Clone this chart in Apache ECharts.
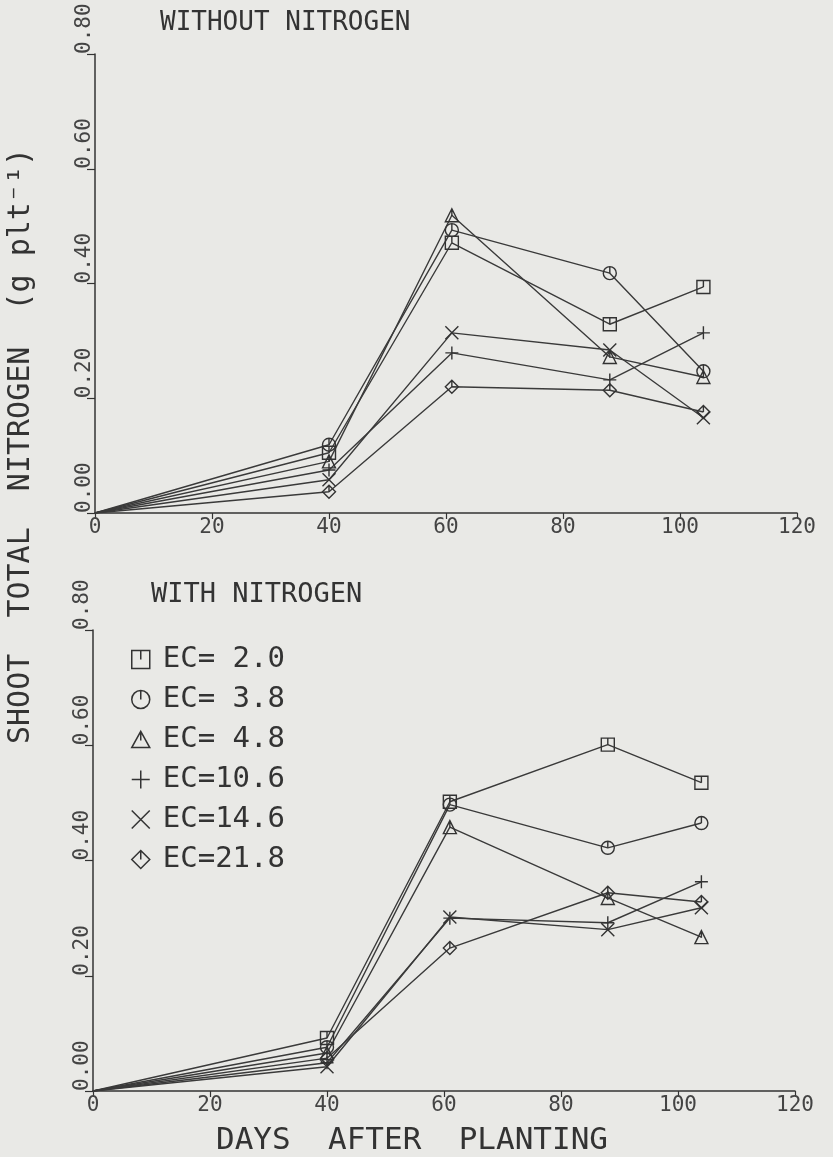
<!DOCTYPE html>
<html>
<head>
<meta charset="utf-8">
<script src="https://cdn.jsdelivr.net/npm/echarts@6/dist/echarts.min.js"></script>
<style>
  html, body { margin: 0; background: #e9e9e6; }
  #chart { width: 833px; height: 1157px; }
</style>
</head>
<body>
<div id="chart"></div>
<script>
// days after planting
const days = [0, 40, 61, 88, 104];
const ecNames = ['EC= 2.0', 'EC= 3.8', 'EC= 4.8', 'EC=10.6', 'EC=14.6', 'EC=21.8'];

// without nitrogen (top panel)
const noN_ec2_0 = [0, 0.105, 0.471, 0.329, 0.394];
const noN_ec3_8 = [0, 0.119, 0.493, 0.418, 0.247];
const noN_ec4_8 = [0, 0.090, 0.519, 0.272, 0.237];
const noN_ec10_6 = [0, 0.075, 0.279, 0.232, 0.314];
const noN_ec14_6 = [0, 0.058, 0.314, 0.284, 0.166];
const noN_ec21_8 = [0, 0.037, 0.220, 0.214, 0.176];

// with nitrogen (bottom panel)
const withN_ec2_0 = [0, 0.092, 0.502, 0.601, 0.535];
const withN_ec3_8 = [0, 0.076, 0.497, 0.422, 0.465];
const withN_ec4_8 = [0, 0.066, 0.458, 0.335, 0.267];
const withN_ec10_6 = [0, 0.049, 0.300, 0.292, 0.363];
const withN_ec14_6 = [0, 0.042, 0.302, 0.280, 0.318];
const withN_ec21_8 = [0, 0.057, 0.248, 0.344, 0.328];

const xTicks = [0, 120, 20];     // min, max, interval
const yTicks = [0, 0.8, 0.2];

const mono = 'DejaVu Sans Mono';
const ink = '#333';

// plotter style markers, each with its little tick mark
const markers = [
  'path://M0,0 L10,0 L10,10 L0,10 Z M5,0 L5,5',
  'path://M0,5 A5,5 0 1 1 10,5 A5,5 0 1 1 0,5 Z M5,0 L5,5',
  'path://M5,0 L10,9 L0,9 Z M5,0 L5,5',
  'path://M5,0 L5,10 M0,5 L10,5',
  'path://M0,0 L10,10 M10,0 L0,10',
  'path://M5,0 L10,5 L5,10 L0,5 Z M5,0 L5,5'
];

const chart = echarts.init(document.getElementById('chart'));

function makeSeries(values, i, axis) {
  return {
    name: ecNames[i],
    type: 'line',
    xAxisIndex: axis,
    yAxisIndex: axis,
    data: days.map((d, k) => (k === 0 ? { value: [d, values[k]], symbol: 'none' } : [d, values[k]])),
    symbol: markers[i],
    symbolSize: 13,
    lineStyle: { color: '#3a3a3a', width: 1.4 },
    itemStyle: { color: 'rgba(0,0,0,0)', borderColor: ink, borderWidth: 1.4 },
    emphasis: { disabled: true },
    silent: true
  };
}

const topSets = [noN_ec2_0, noN_ec3_8, noN_ec4_8, noN_ec10_6, noN_ec14_6, noN_ec21_8];
const bottomSets = [withN_ec2_0, withN_ec3_8, withN_ec4_8, withN_ec10_6, withN_ec14_6, withN_ec21_8];

const series = [];
topSets.forEach((v, i) => series.push(makeSeries(v, i, 0)));
bottomSets.forEach((v, i) => series.push(makeSeries(v, i, 1)));

function xAxis(idx) {
  return {
    type: 'value', gridIndex: idx,
    min: xTicks[0], max: xTicks[1], interval: xTicks[2],
    axisLine: { show: true, onZero: false, lineStyle: { color: ink, width: 1.5 } },
    axisTick: { show: true, length: 6, lineStyle: { color: ink, width: 1.2 } },
    axisLabel: { fontFamily: mono, fontSize: 21, color: '#444', margin: 4, showMinLabel: true, showMaxLabel: true },
    splitLine: { show: false }
  };
}

function yAxis(idx) {
  return {
    type: 'value', gridIndex: idx,
    min: yTicks[0], max: yTicks[1], interval: yTicks[2],
    axisLine: { show: true, onZero: false, lineStyle: { color: ink, width: 1.5 } },
    axisTick: { show: true, length: 8, lineStyle: { color: ink, width: 1.2 } },
    axisLabel: {
      fontFamily: mono, fontSize: 21, color: '#444',
      rotate: 90, align: 'left', verticalAlign: 'bottom', margin: 0,
      showMinLabel: true, showMaxLabel: true,
      formatter: (v) => v.toFixed(2)
    },
    splitLine: { show: false }
  };
}

const option = {
  backgroundColor: '#e9e9e6',
  animation: false,
  grid: [
    { left: 95, top: 54, width: 702, height: 459 },
    { left: 93, top: 630, width: 702, height: 461 }
  ],
  xAxis: [xAxis(0), xAxis(1)],
  yAxis: [yAxis(0), yAxis(1)],
  legend: {
    data: ecNames.map((n, i) => ({ name: n, icon: markers[i] })),
    orient: 'vertical',
    left: 126,
    top: 640,
    itemWidth: 18,
    itemHeight: 18,
    itemGap: 11,
    selectedMode: false,
    itemStyle: { color: 'rgba(0,0,0,0)', borderColor: ink, borderWidth: 1.5 },
    lineStyle: { opacity: 0 },
    textStyle: { fontFamily: mono, fontSize: 29, lineHeight: 29, color: ink, padding: [0, 0, 0, 8] }
  },
  graphic: [
    {
      type: 'text', left: 160, top: 10,
      style: { text: 'WITHOUT NITROGEN', fontFamily: mono, fontSize: 26, fill: ink }
    },
    {
      type: 'text', left: 151, top: 581,
      style: { text: 'WITH NITROGEN', fontFamily: mono, fontSize: 27, fill: ink }
    },
    {
      type: 'text', x: 21, y: 446, rotation: Math.PI / 2,
      style: {
        text: 'SHOOT  TOTAL  NITROGEN  (g plt\u207B\u00B9)',
        fontFamily: mono, fontSize: 30, fill: ink,
        textAlign: 'center', textVerticalAlign: 'middle',
        align: 'center', verticalAlign: 'middle'
      }
    },
    {
      type: 'text', x: 412, y: 1141,
      style: {
        text: 'DAYS  AFTER  PLANTING',
        fontFamily: mono, fontSize: 31, fill: ink,
        textAlign: 'center', textVerticalAlign: 'middle',
        align: 'center', verticalAlign: 'middle'
      }
    }
  ],
  series: series
};

chart.setOption(option);
</script>
</body>
</html>
